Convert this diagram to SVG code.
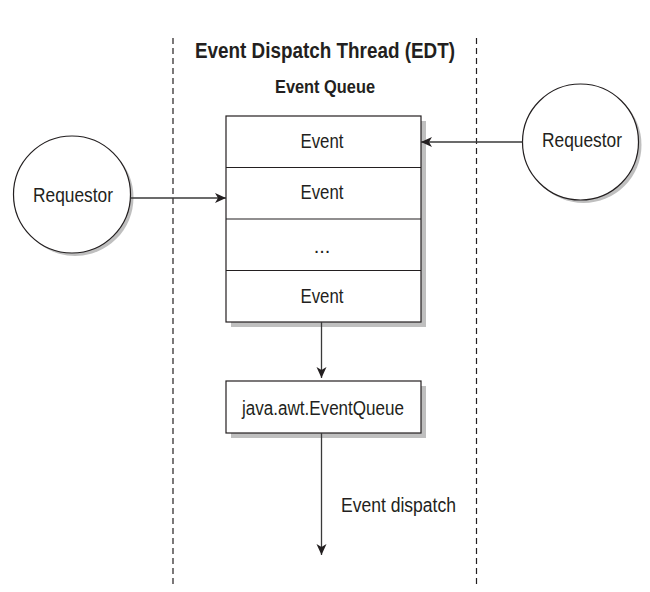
<svg xmlns="http://www.w3.org/2000/svg" width="650" height="592" viewBox="0 0 650 592">
<style>
text{font-family:"Liberation Sans",Arial,sans-serif;fill:#231f20;}
.t{font-size:20px;text-anchor:middle;}
.b{font-weight:bold;text-anchor:middle;}
.box{fill:#fff;stroke:#231f20;stroke-width:1.2;}
.sh{fill:#bfbfbf;}
.sep{stroke:#231f20;stroke-width:1.2;}
.dash{stroke:#231f20;stroke-width:1.2;stroke-dasharray:6 4;fill:none;}
.conn{stroke:#3a3a3a;stroke-width:1.3;fill:none;marker-end:url(#ah);}
</style>
<defs>
<marker id="ah" viewBox="0 0 12 12" refX="11" refY="6" markerWidth="12" markerHeight="12" markerUnits="userSpaceOnUse" orient="auto">
<path d="M0,1 L11,6 L0,11 L3,6 Z" fill="#231f20"/>
</marker>
</defs>
<g id="boundaries">
<line class="dash" x1="173" y1="38" x2="173" y2="585"/>
<line class="dash" x1="476.5" y1="38" x2="476.5" y2="585"/>
</g>
<g id="title">
<text class="b" x="325" y="58" font-size="22" textLength="260" lengthAdjust="spacingAndGlyphs">Event Dispatch Thread (EDT)</text>
<text class="b" x="325" y="93" font-size="18" textLength="100" lengthAdjust="spacingAndGlyphs">Event Queue</text>
</g>
<g id="event-queue">
<rect class="sh" x="231" y="121" width="195" height="206"/>
<rect class="box" x="226" y="116" width="195" height="206"/>
<line class="sep" x1="226" y1="167.5" x2="421" y2="167.5"/>
<line class="sep" x1="226" y1="219" x2="421" y2="219"/>
<line class="sep" x1="226" y1="270.5" x2="421" y2="270.5"/>
<text class="t" x="322" y="148" textLength="43" lengthAdjust="spacingAndGlyphs">Event</text>
<text class="t" x="322" y="199" textLength="43" lengthAdjust="spacingAndGlyphs">Event</text>
<text class="t" x="322" y="253">...</text>
<text class="t" x="322" y="303" textLength="43" lengthAdjust="spacingAndGlyphs">Event</text>
</g>
<g id="awt-eventqueue">
<rect class="sh" x="231" y="386" width="195" height="52"/>
<rect class="box" x="226" y="381" width="195" height="52"/>
<text class="t" x="323" y="415" textLength="162" lengthAdjust="spacingAndGlyphs">java.awt.EventQueue</text>
</g>
<g id="requestor-left">
<circle cx="75" cy="197.5" r="58.5" class="sh"/>
<circle cx="72" cy="194.5" r="58.5" class="box"/>
<text class="t" x="73" y="202" textLength="80" lengthAdjust="spacingAndGlyphs">Requestor</text>
</g>
<g id="requestor-right">
<circle cx="583.5" cy="145" r="58" class="sh"/>
<circle cx="580.5" cy="142" r="58" class="box"/>
<text class="t" x="582" y="147" textLength="80" lengthAdjust="spacingAndGlyphs">Requestor</text>
</g>
<g id="connectors">
<line class="conn" x1="131" y1="198" x2="226" y2="198"/>
<line class="conn" x1="522.5" y1="142" x2="421" y2="142"/>
<line class="conn" x1="321.5" y1="322" x2="321.5" y2="378"/>
<line class="conn" x1="321.5" y1="433" x2="321.5" y2="555"/>
<text x="341" y="512" font-size="20" textLength="115" lengthAdjust="spacingAndGlyphs">Event dispatch</text>
</g>
</svg>
